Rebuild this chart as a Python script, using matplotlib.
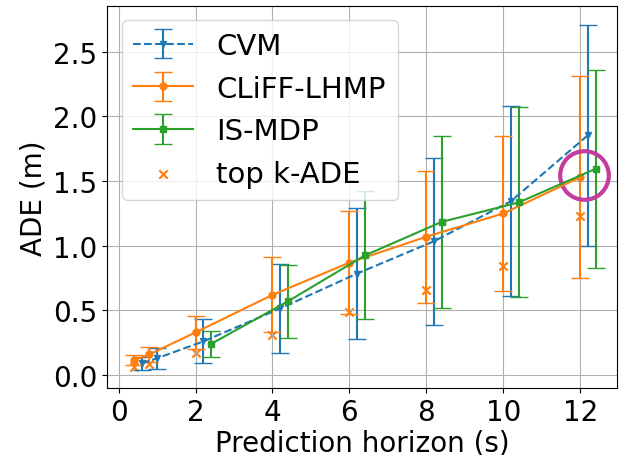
import matplotlib
matplotlib.use("Agg")
import matplotlib.pyplot as plt
import numpy as np

# prediction horizons (s), each method shifted a little so the bars don't overlap
cliff_x = [0.4, 0.8, 2, 4, 6, 8, 10, 12]
cvm_x = [0.6, 1.0, 2.2, 4.2, 6.2, 8.2, 10.2, 12.2]
ismdp_x = [2.4, 4.4, 6.4, 8.4, 10.4, 12.4]

# mean ADE (m) and std
cvm_mean = [0.09, 0.13, 0.26, 0.515, 0.785, 1.035, 1.345, 1.855]
cvm_std = [0.05, 0.08, 0.17, 0.345, 0.505, 0.645, 0.735, 0.855]

cliff_mean = [0.115, 0.16, 0.33, 0.62, 0.87, 1.07, 1.25, 1.53]
cliff_std = [0.04, 0.06, 0.13, 0.29, 0.40, 0.51, 0.60, 0.78]

ismdp_mean = [0.24, 0.57, 0.925, 1.185, 1.335, 1.595]
ismdp_std = [0.10, 0.28, 0.495, 0.665, 0.735, 0.765]

top_k_ade = [0.06, 0.085, 0.17, 0.31, 0.49, 0.66, 0.84, 1.23]

# highlighted point
highlight = (12.1, 1.55)

plt.rcParams['font.size'] = 20

fig, ax = plt.subplots(figsize=(6.19, 4.56), dpi=100)
fig.subplots_adjust(left=0.173, right=0.997, top=0.985, bottom=0.147)

h_cvm = ax.errorbar(cvm_x, cvm_mean, yerr=cvm_std, fmt='v--', color='tab:blue',
                    markersize=5, capsize=6.5, label='CVM')
h_cliff = ax.errorbar(cliff_x, cliff_mean, yerr=cliff_std, fmt='o-', color='tab:orange',
                      markersize=5, capsize=6.5, label='CLiFF-LHMP')
h_ismdp = ax.errorbar(ismdp_x, ismdp_mean, yerr=ismdp_std, fmt='s-', color='tab:green',
                      markersize=5, capsize=6.5, label='IS-MDP')
h_topk = ax.scatter(cliff_x, top_k_ade, marker='x', color='tab:orange', label='top k-ADE')

ax.plot([highlight[0]], [highlight[1]], marker='o', markersize=35,
        markerfacecolor='none', markeredgecolor='#c33c9e', markeredgewidth=3)

ax.set_xlim(-0.3, 12.96)
ax.set_ylim(-0.1, 2.856)
ax.set_xticks([0, 2, 4, 6, 8, 10, 12])
ax.set_yticks([0.0, 0.5, 1.0, 1.5, 2.0, 2.5])
ax.set_xlabel('Prediction horizon (s)', labelpad=2)
ax.set_ylabel('ADE (m)')
ax.grid(True)
ax.legend(handles=[h_cvm, h_cliff, h_ismdp, h_topk], loc='upper left',
          fontsize=21, handlelength=2.05)

plt.savefig('out.png')
